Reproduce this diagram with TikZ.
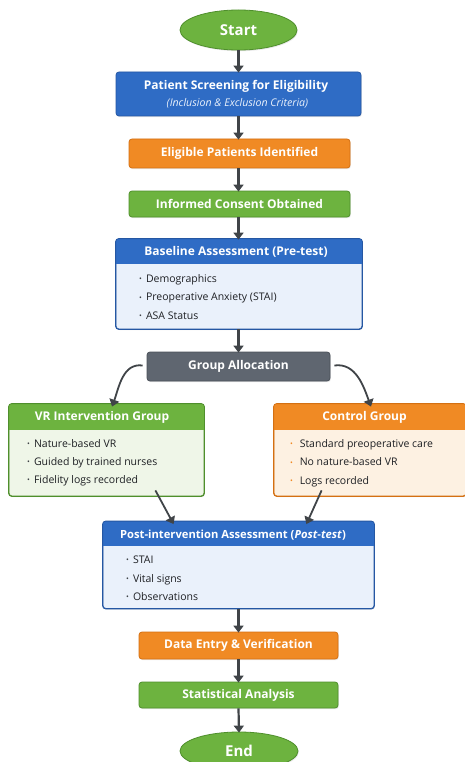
\documentclass[tikz,border=0pt]{standalone}
\usepackage{fontspec}
\setmainfont{Open Sans}
\usetikzlibrary{shapes.geometric,arrows.meta,shadows}
\definecolor{bl}{HTML}{2F6CC5}
\definecolor{blB}{HTML}{2557A3}
\definecolor{blL}{HTML}{EAF1FB}
\definecolor{og}{HTML}{F08A24}
\definecolor{ogB}{HTML}{D47012}
\definecolor{ogL}{HTML}{FDF1E2}
\definecolor{gr}{HTML}{6DB33F}
\definecolor{grB}{HTML}{4F8F2C}
\definecolor{grL}{HTML}{EFF6E8}
\definecolor{gy}{HTML}{5F6670}
\definecolor{gyB}{HTML}{4A5059}
\definecolor{ar}{HTML}{404448}
\definecolor{tx}{HTML}{1E2024}
\tikzset{
  x=1pt,y=-1pt,
  sh/.style={drop shadow={opacity=0.18,shadow xshift=0.8pt,shadow yshift=-1.2pt}},
  bar/.style={rectangle,rounded corners=3pt,line width=0.8pt,sh,text=white,font=\fontsize{12}{14}\selectfont\bfseries},
  oval/.style={ellipse,line width=0.8pt,fill=gr,draw=grB,sh,text=white,font=\fontsize{15}{17}\selectfont\bfseries,inner sep=0pt},
  arr/.style={-{Triangle[length=7pt,width=10pt]},line width=2.2pt,draw=ar},
  panel/.style={rectangle,rounded corners=3pt,line width=0.8pt,sh},
  ttl/.style={text=white,font=\fontsize{12}{14}\selectfont\bfseries,inner sep=0pt},
  lst/.style={align=left,anchor=north west,inner sep=0pt,text=tx,font=\fontsize{10.5}{18.2}\selectfont},
}
\newcommand{\bu}[1][ar]{\textcolor{#1}{\raisebox{0.15ex}{\fontsize{7.5}{7.5}\selectfont\textbullet}}\hspace{4pt}}
\begin{document}
\begin{tikzpicture}
\useasboundingbox (0,0) rectangle (464,762);
\fill[white] (0,0) rectangle (464,762);

% Start
\node[oval,minimum width=117,minimum height=40] (start) at (238.5,30) {Start};

% Screening
\node[bar,fill=bl,draw=blB,minimum width=245,minimum height=44] (scr) at (238.5,94) {};
\node[ttl] (scrT) at (236,86.5) {Patient Screening for Eligibility};
\node[inner sep=0pt,text=blL,font=\fontsize{10.6}{12}\selectfont\itshape] (scrS) at (237.5,103.5) {(Inclusion \& Exclusion Criteria)};

% Eligible
\node[bar,fill=og,draw=ogB,minimum width=221,minimum height=29] (elig) at (239.5,153.5) {Eligible Patients Identified};
% Consent
\node[bar,fill=gr,draw=grB,minimum width=221,minimum height=26] (cons) at (239.5,204) {Informed Consent Obtained};

% Baseline
\node[panel,fill=blL,draw=blB,minimum width=246,minimum height=90] (base) at (239,284) {};
\begin{scope}
\clip[rounded corners=3pt] (base.north west) rectangle (base.south east);
\fill[bl] (base.north west) rectangle ([yshift=-25pt]base.north east);
\end{scope}
\draw[blB,line width=0.8pt,rounded corners=3pt] (base.north west) rectangle (base.south east);
\node[ttl] (baseT) at (236,252) {Baseline Assessment (Pre-test)};
\node[lst] (baseL) at (139,274.5) {\bu Demographics\\\bu Preoperative Anxiety (STAI)\\\bu ASA Status};

% Group allocation
\node[bar,fill=gy,draw=gyB,minimum width=183,minimum height=29] (alloc) at (238.5,366.5) {Group Allocation};

% VR group
\node[panel,fill=grL,draw=grB,minimum width=195,minimum height=92] (vr) at (106.5,450) {};
\begin{scope}
\clip[rounded corners=3pt] (vr.north west) rectangle (vr.south east);
\fill[gr] (vr.north west) rectangle ([yshift=-26pt]vr.north east);
\end{scope}
\draw[grB,line width=0.8pt,rounded corners=3pt] (vr.north west) rectangle (vr.south east);
\node[ttl] (vrT) at (102,417.5) {VR Intervention Group};
\node[lst] (vrL) at (27,439) {\bu Nature-based VR\\\bu Guided by trained nurses\\\bu Fidelity logs recorded};

% Control group
\node[panel,fill=ogL,draw=ogB,minimum width=192,minimum height=92] (ctl) at (370,450) {};
\begin{scope}
\clip[rounded corners=3pt] (ctl.north west) rectangle (ctl.south east);
\fill[og] (ctl.north west) rectangle ([yshift=-26pt]ctl.north east);
\end{scope}
\draw[ogB,line width=0.8pt,rounded corners=3pt] (ctl.north west) rectangle (ctl.south east);
\node[ttl] (ctlT) at (364.5,417.5) {Control Group};
\node[lst] (ctlL) at (290,439.5) {\bu[og] Standard preoperative care\\\bu[og] No nature-based VR\\\bu[og] Logs recorded};

% Post
\node[panel,fill=blL,draw=blB,minimum width=271,minimum height=87] (post) at (238.5,565) {};
\begin{scope}
\clip[rounded corners=3pt] (post.north west) rectangle (post.south east);
\fill[bl] (post.north west) rectangle ([yshift=-25pt]post.north east);
\end{scope}
\draw[blB,line width=0.8pt,rounded corners=3pt] (post.north west) rectangle (post.south east);
\node[ttl,font=\fontsize{11.2}{13}\selectfont\bfseries] (postT) at (233,535) {Post-intervention Assessment (\textit{Post-test})};
\node[lst] (postL) at (126,556) {\bu STAI\\\bu Vital signs\\\bu Observations};

% Data entry
\node[bar,fill=og,draw=ogB,minimum width=199,minimum height=27] (data) at (238.5,645.5) {Data Entry \& Verification};
% Stats
\node[bar,fill=gr,draw=grB,minimum width=199,minimum height=26] (stat) at (238.5,695) {Statistical Analysis};
% End
\node[oval,minimum width=118,minimum height=38] (end) at (239,751) {End};

% arrows
\draw[arr] (start.south) -- ([yshift=-1]scr.north);
\draw[arr] (scr.south) -- ([yshift=-1]elig.north -| scr.south);
\draw[arr] (elig.south -| scr.south) -- ([yshift=-1]cons.north -| scr.south);
\draw[arr] (cons.south -| scr.south) -- ([yshift=-1]base.north -| scr.south);
\draw[arr] (base.south -| scr.south) -- ([yshift=-1]alloc.north);
\draw[arr,line width=1.8pt] ([xshift=-4pt,yshift=1pt]alloc.west) to[out=172,in=70] ([xshift=5.5pt,yshift=-3pt]vr.north);
\draw[arr,line width=1.8pt] ([xshift=4pt,yshift=1pt]alloc.east) to[out=8,in=110] ([xshift=1pt,yshift=-3pt]ctl.north);
\draw[arr,line width=1.8pt] ([xshift=-49pt,yshift=6pt]vr.south east) -- ([xshift=71pt,yshift=-3pt]post.north west);
\draw[arr,line width=1.8pt] ([xshift=48pt,yshift=6pt]ctl.south west) -- ([xshift=-68pt,yshift=-3pt]post.north east);
\draw[arr] (post.south) -- ([yshift=-1]data.north);
\draw[arr] (data.south) -- ([yshift=-1]stat.north);
\draw[arr] (stat.south) -- ([yshift=-1]end.north);
\end{tikzpicture}
\end{document}
